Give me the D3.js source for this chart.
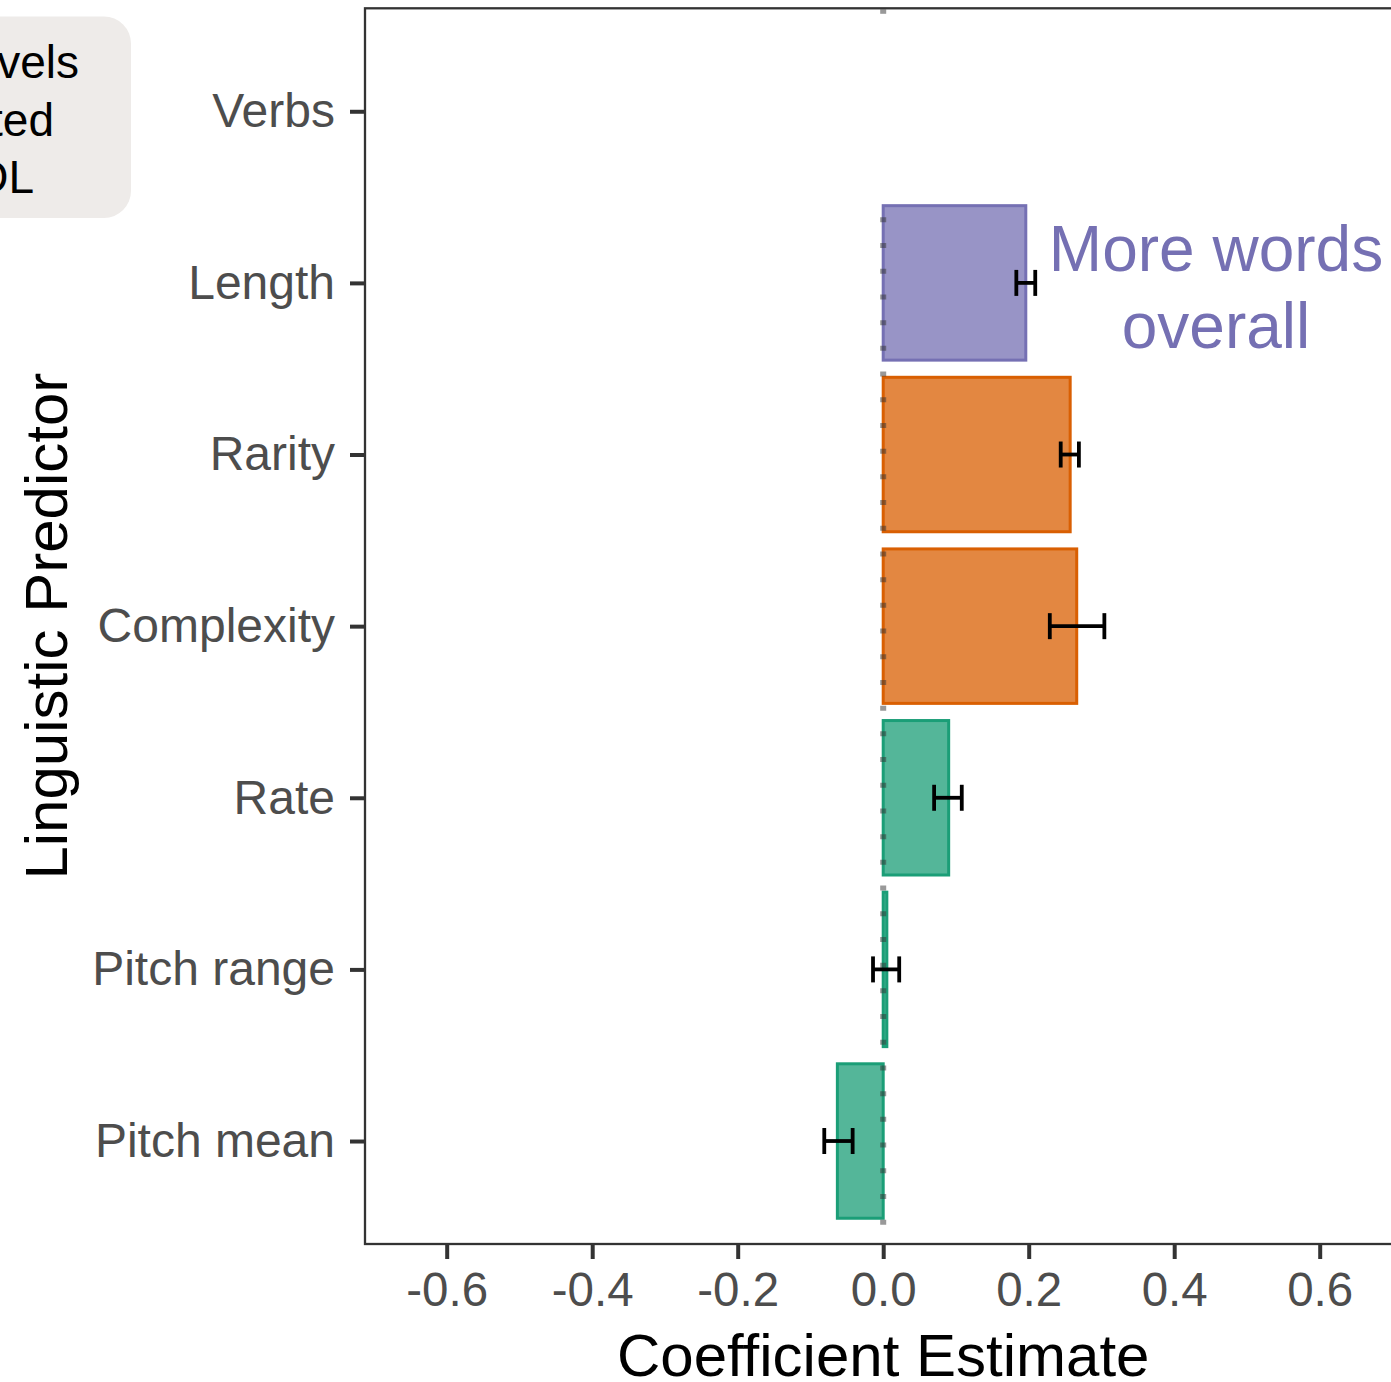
<!DOCTYPE html>
<html><head><meta charset="utf-8">
<script src="https://cdn.jsdelivr.net/npm/d3@7"></script>
<style>body{margin:0;background:#fff}svg{display:block}</style>
</head><body>
<script>
// ---- data ----
const categories = ["Verbs","Length","Rarity","Complexity","Rate","Pitch range","Pitch mean"];
const estimates  = [null, 0.196, 0.257, 0.266, 0.090, 0.005, -0.063];
const errLow     = [null, 0.183, 0.244, 0.229, 0.070, -0.014, -0.081];
const errHigh    = [null, 0.209, 0.269, 0.304, 0.108, 0.022, -0.042];
const groups     = [null, "words", "lex", "lex", "pros", "pros", "pros"];
const groupColors = {words:"#7570b3", lex:"#d95f02", pros:"#1b9e77"};
const xTicks = [-0.6,-0.4,-0.2,0.0,0.2,0.4,0.6];
const legendLines = ["Levels","adjusted","for DL"];
const annotationLines = ["More words","overall"];

const W=1391,H=1382;
const FONT="'Liberation Sans', Arial, Helvetica, sans-serif";
const svg=d3.select("body").append("svg").attr("width",W).attr("height",H)
  .style("font-family",FONT);

const L=365, R=1401.4, T=8.3, B=1244;
const x=d3.scaleLinear().domain([-0.7123,0.7123]).range([L,R]);
const y=d3.scalePoint().domain(categories).range([T,B]).padding(0.6);
const step=y.step();
const bh=step*0.9;

// legend box (cut off at left edge, as in the reference)
const lg=svg.append("g");
lg.append("rect").attr("x",-60).attr("y",16.5).attr("width",191).attr("height",201.5)
  .attr("rx",27).attr("fill","#eeebe9");
const legendRight=[79,54,34], legendBase=[78,136,193];
legendLines.forEach((t,i)=>lg.append("text").attr("x",legendRight[i]).attr("y",legendBase[i])
  .attr("text-anchor","end").attr("font-size",46).attr("fill","#000").text(t));

// bars
const data=categories.map((c,i)=>({c,v:estimates[i],lo:errLow[i],hi:errHigh[i],g:groups[i]})).filter(d=>d.v!==null);
svg.append("g").selectAll("rect").data(data).join("rect")
  .attr("x",d=>x(Math.min(0,d.v))).attr("width",d=>Math.abs(x(d.v)-x(0)))
  .attr("y",d=>y(d.c)-bh/2).attr("height",bh)
  .attr("fill",d=>groupColors[d.g]).attr("fill-opacity",0.75)
  .attr("stroke",d=>groupColors[d.g]).attr("stroke-width",3);

// dotted zero line
const zl=svg.append("g").attr("stroke","#333").attr("stroke-opacity",0.5).attr("stroke-width",6);
zl.append("line").attr("x1",x(0)).attr("x2",x(0)).attr("y1",T+1).attr("y2",T+5.5);
const zStart=y("Length")-bh/2;
zl.append("line").attr("x1",x(0)).attr("x2",x(0)).attr("y1",zStart).attr("y2",B)
  .attr("stroke-dasharray","5 20.7").attr("stroke-dashoffset",14);

// error bars
const eb=svg.append("g").attr("stroke","#000").attr("stroke-width",3.8).attr("fill","none");
data.forEach(d=>{
  const cy=y(d.c);
  eb.append("line").attr("x1",x(d.lo)).attr("x2",x(d.hi)).attr("y1",cy).attr("y2",cy);
  eb.append("line").attr("x1",x(d.lo)).attr("x2",x(d.lo)).attr("y1",cy-13).attr("y2",cy+13);
  eb.append("line").attr("x1",x(d.hi)).attr("x2",x(d.hi)).attr("y1",cy-13).attr("y2",cy+13);
});

// annotation
annotationLines.forEach((t,i)=>svg.append("text").attr("x",1216).attr("y",271+i*77)
  .attr("text-anchor","middle").attr("font-size",64).attr("fill","#7570b3").text(t));

// panel border
svg.append("rect").attr("x",L).attr("y",T).attr("width",R-L).attr("height",B-T)
  .attr("fill","none").attr("stroke","#333").attr("stroke-width",2.3);

// axes
const xa=svg.append("g").attr("transform",`translate(0,${B})`)
  .call(d3.axisBottom(x).tickValues(xTicks).tickFormat(d3.format(".1f")).tickSize(15).tickSizeOuter(0).tickPadding(13));
xa.select(".domain").remove();
xa.selectAll(".tick line").attr("stroke","#333").attr("stroke-width",4);
xa.selectAll(".tick text").attr("font-size",47.5).attr("fill","#4d4d4d").attr("font-family",FONT)
  .text(d=>d<0?"-"+Math.abs(d).toFixed(1):d.toFixed(1));

const ya=svg.append("g").attr("transform",`translate(${L},0)`)
  .call(d3.axisLeft(y).tickSize(15).tickSizeOuter(0).tickPadding(15));
ya.select(".domain").remove();
ya.selectAll(".tick line").attr("stroke","#333").attr("stroke-width",4);
ya.selectAll(".tick text").attr("font-size",48).attr("fill","#4d4d4d").attr("font-family",FONT);

// axis titles
svg.append("text").attr("x",(L+R)/2).attr("y",1376).attr("text-anchor","middle")
  .attr("font-size",60).attr("fill","#000").text("Coefficient Estimate");
svg.append("text").attr("transform",`translate(67,${(T+B)/2}) rotate(-90)`).attr("text-anchor","middle")
  .attr("font-size",60).attr("fill","#000").text("Linguistic Predictor");
</script>
</body></html>
